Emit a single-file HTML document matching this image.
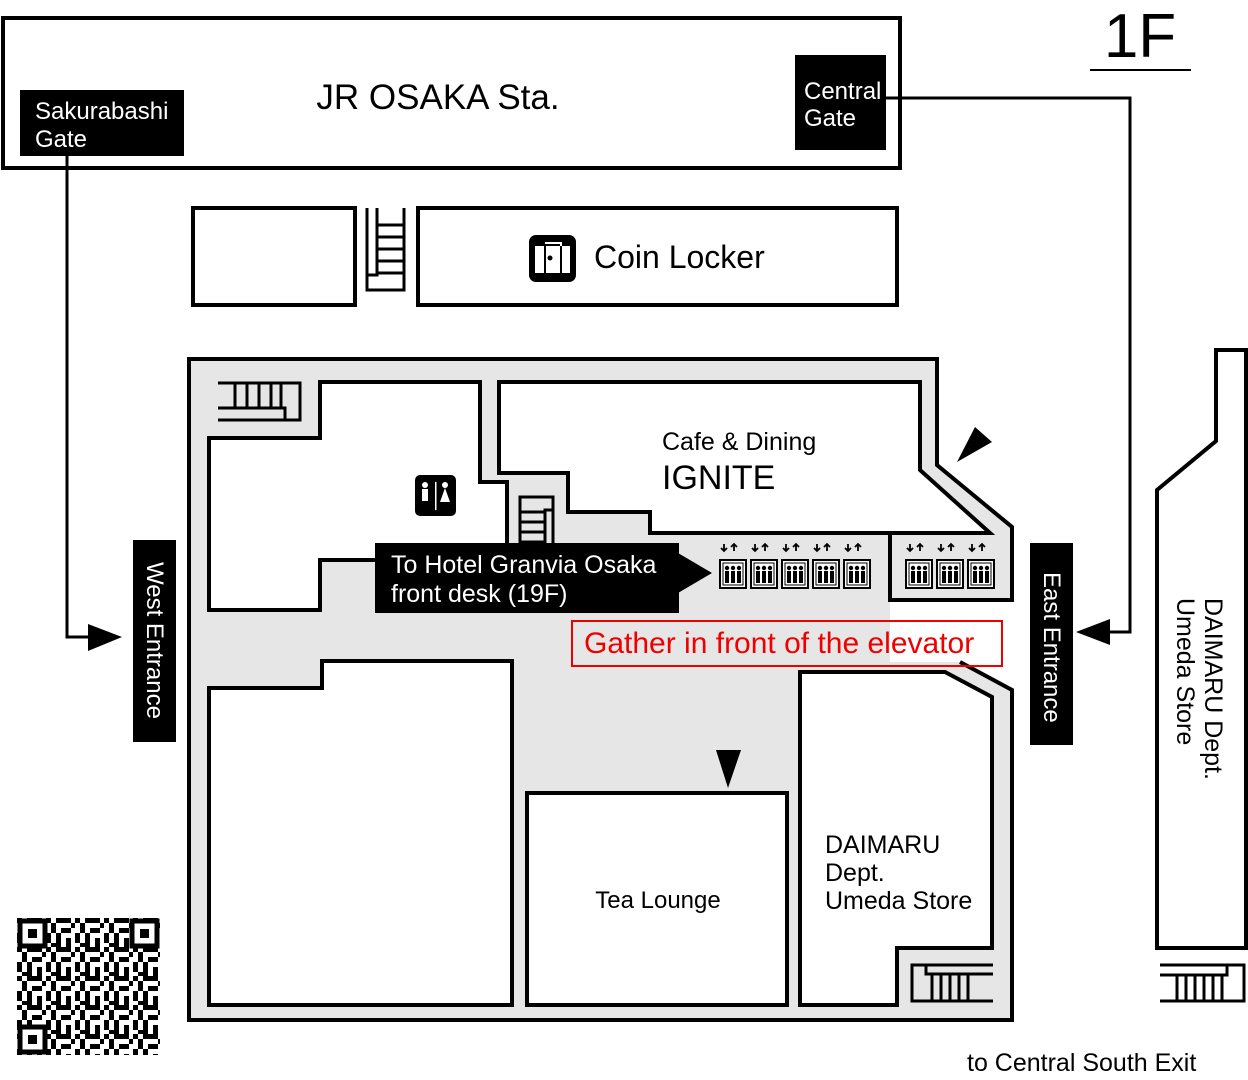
<!DOCTYPE html>
<html><head><meta charset="utf-8"><style>
html,body{margin:0;padding:0;background:#fff;width:1248px;height:1080px;overflow:hidden}
svg{display:block;font-family:"Liberation Sans",sans-serif}
</style></head><body>
<svg width="1248" height="1080" viewBox="0 0 1248 1080" xmlns="http://www.w3.org/2000/svg">
<defs>
<g id="elev">
  <path d="M4 -17 v7 M1 -13 l3 3 l3 -3 M14 -10 v-7 M11 -14 l3 -3 l3 3" stroke="#000" stroke-width="1.8" fill="none"/>
  <rect x="0" y="-1" width="26" height="28" fill="#fff" stroke="#000" stroke-width="2"/>
  <rect x="3" y="2" width="20" height="22" fill="none" stroke="#000" stroke-width="1"/>
  <g fill="#000"><circle cx="7" cy="7" r="2.2"/><circle cx="13" cy="7" r="2.2"/><circle cx="19" cy="7" r="2.2"/>
  <rect x="5" y="10" width="4" height="12"/><rect x="11" y="10" width="4" height="12"/><rect x="17" y="10" width="4" height="12"/></g>
</g>
<pattern id="qr" x="17" y="918" width="29" height="29" patternUnits="userSpaceOnUse">
  <rect width="29" height="29" fill="#fff"/>
  <g fill="#000">
  <rect x="0" y="0" width="5" height="5"/><rect x="10" y="0" width="10" height="5"/><rect x="5" y="5" width="5" height="10"/>
  <rect x="15" y="10" width="10" height="5"/><rect x="0" y="15" width="5" height="10"/><rect x="20" y="20" width="5" height="9"/>
  <rect x="10" y="20" width="5" height="5"/><rect x="25" y="5" width="4" height="5"/><rect x="5" y="25" width="10" height="4"/>
  <rect x="20" y="0" width="5" height="5"/><rect x="10" y="15" width="5" height="5"/>
  </g>
</pattern>
</defs>

<rect x="3" y="18" width="897" height="150" fill="#fff" stroke="#000" stroke-width="4"/>
<text x="438" y="109" font-size="35" text-anchor="middle">JR OSAKA Sta.</text>
<rect x="20" y="90" width="164" height="66" fill="#000"/>
<text x="35" y="119" font-size="24" fill="#fff">Sakurabashi</text>
<text x="35" y="147" font-size="24" fill="#fff">Gate</text>
<rect x="795" y="55" width="91" height="95" fill="#000"/>
<text x="804" y="99" font-size="24" fill="#fff">Central</text>
<text x="804" y="126" font-size="24" fill="#fff">Gate</text>

<text x="1140" y="57" font-size="62" text-anchor="middle">1F</text>
<line x1="1090" y1="70" x2="1191" y2="70" stroke="#000" stroke-width="2"/>

<polyline points="67,156 67,637 100,637" fill="none" stroke="#000" stroke-width="3"/>
<polygon points="88,624 122,637 88,651" fill="#000"/>
<polyline points="886,98 1130,98 1130,632 1100,632" fill="none" stroke="#000" stroke-width="3"/>
<polygon points="1110,619 1076,632 1110,645" fill="#000"/>

<rect x="193" y="208" width="162" height="97" fill="#fff" stroke="#000" stroke-width="4"/>
<rect x="418" y="208" width="479" height="97" fill="#fff" stroke="#000" stroke-width="4"/>
<g stroke="#000" stroke-width="3" fill="none">
<path d="M367 208 V290 H404 V208"/><path d="M377 208 V275 H367"/>
<path d="M377 225 H404 M377 237 H404 M377 249 H404 M377 261 H404 M377 273 H404"/>
</g>
<rect x="529" y="235" width="47" height="47" rx="7" fill="#000"/>
<path d="M535 246 H570 V273 H535 Z" fill="#fff"/>
<path d="M545 243 H561 V250" stroke="#fff" stroke-width="2" fill="none"/>
<path d="M545 246 V273 M561 246 V273" stroke="#000" stroke-width="2"/>
<circle cx="550" cy="258" r="2.5" fill="#000"/>
<text x="594" y="268" font-size="32">Coin Locker</text>

<path d="M189 359 H937 V465 L1012 527 V600 H890 V662 H960 L1012 690 V1020 H189 Z" fill="#e6e6e6"/>
<g fill="none" stroke="#000" stroke-width="4">
<path d="M189 660 V359 H937 V465 L1012 527 V600 H890 V535"/>
<path d="M960 662 L1012 690 V1020 H189 V660"/>
</g>
<path d="M209 438 H320 V382 H480 V482 H507 V560 H320 V610 H209 Z" fill="#fff" stroke="#000" stroke-width="4"/>
<g stroke="#000" stroke-width="3" fill="none">
<path d="M218 383 H300 V420 H218"/><path d="M218 408 H285 V420"/>
<path d="M235 383 V408 M247 383 V408 M259 383 V408 M271 383 V408 M281 383 V408"/>
</g>
<rect x="415" y="475" width="41" height="41" rx="5" fill="#000"/>
<g fill="#fff"><circle cx="425" cy="485" r="3"/><rect x="422" y="489" width="6" height="12"/>
<circle cx="445" cy="485" r="3"/><polygon points="445,488 450,502 440,502"/><rect x="435" y="482" width="1.5" height="28"/></g>
<path d="M499 382 H920 V470 L990 533 H650 V512 H568 V473 H499 Z" fill="#fff" stroke="#000" stroke-width="4"/>
<text x="662" y="450" font-size="25">Cafe &amp; Dining</text>
<text x="662" y="489" font-size="34">IGNITE</text>
<polygon points="957,462 992,442 975,427" fill="#000"/>
<g stroke="#000" stroke-width="3" fill="none">
<path d="M520 545 V497 H553 V545"/><path d="M545 545 V510 H553"/>
<path d="M520 512 H545 M520 522 H545 M520 532 H545 M520 542 H545"/>
</g>
<rect x="375" y="543" width="304" height="70" fill="#000"/>
<polygon points="678,553 712,573 678,593" fill="#000"/>
<text x="391" y="573" font-size="25" fill="#fff">To Hotel Granvia Osaka</text>
<text x="391" y="602" font-size="25" fill="#fff">front desk (19F)</text>
<use href="#elev" x="720" y="561"/><use href="#elev" x="751" y="561"/><use href="#elev" x="782" y="561"/><use href="#elev" x="813" y="561"/><use href="#elev" x="844" y="561"/>
<use href="#elev" x="906" y="561"/><use href="#elev" x="937" y="561"/><use href="#elev" x="968" y="561"/>
<rect x="572" y="621" width="430" height="45" fill="none" stroke="#e00" stroke-width="2"/>
<text x="584" y="653" font-size="30" fill="#e00">Gather in front of the elevator</text>
<path d="M209 688 H322 V661 H512 V1005 H209 Z" fill="#fff" stroke="#000" stroke-width="4"/>
<rect x="527" y="793" width="260" height="212" fill="#fff" stroke="#000" stroke-width="4"/>
<text x="658" y="908" font-size="24" text-anchor="middle">Tea Lounge</text>
<polygon points="716,750 741,750 728,788" fill="#000"/>
<path d="M800 672 H945 L992 697 V948 H897 V1005 H800 Z" fill="#fff" stroke="#000" stroke-width="4"/>
<text x="825" y="853" font-size="25">DAIMARU</text>
<text x="825" y="881" font-size="25">Dept.</text>
<text x="825" y="909" font-size="25">Umeda Store</text>
<g stroke="#000" stroke-width="3" fill="none">
<path d="M993 965 H912 V1001 H993"/><path d="M993 974 H926 V965"/>
<path d="M932 974 V1001 M941 974 V1001 M950 974 V1001 M959 974 V1001 M968 974 V1001"/>
</g>
<rect x="133" y="540" width="43" height="202" fill="#000"/>
<text transform="translate(147,562) rotate(90)" font-size="24" fill="#fff">West Entrance</text>
<rect x="1030" y="543" width="43" height="202" fill="#000"/>
<text transform="translate(1044,572) rotate(90)" font-size="24" fill="#fff">East Entrance</text>
<path d="M1157 490 L1216 441 V350 H1246 V948 H1157 Z" fill="#fff" stroke="#000" stroke-width="4"/>
<text transform="translate(1205,598) rotate(90)" font-size="25">DAIMARU Dept.</text>
<text transform="translate(1177,598) rotate(90)" font-size="25">Umeda Store</text>
<g stroke="#000" stroke-width="3" fill="none">
<path d="M1160 965 H1244 V1001 H1160"/><path d="M1160 975 H1227 V965"/>
<path d="M1177 975 V1001 M1186 975 V1001 M1195 975 V1001 M1204 975 V1001 M1213 975 V1001 M1222 975 V1001"/>
</g>
<rect x="17" y="918" width="143" height="137" fill="url(#qr)"/>
<g fill="none" stroke="#000" stroke-width="5">
<rect x="20" y="921" width="25" height="25" fill="#fff"/><rect x="132" y="921" width="25" height="25" fill="#fff"/><rect x="20" y="1027" width="25" height="25" fill="#fff"/>
</g>
<rect x="28" y="929" width="9" height="9"/><rect x="140" y="929" width="9" height="9"/><rect x="28" y="1035" width="9" height="9"/>
<text x="967" y="1071" font-size="25">to Central South Exit</text>
</svg>
</body></html>
